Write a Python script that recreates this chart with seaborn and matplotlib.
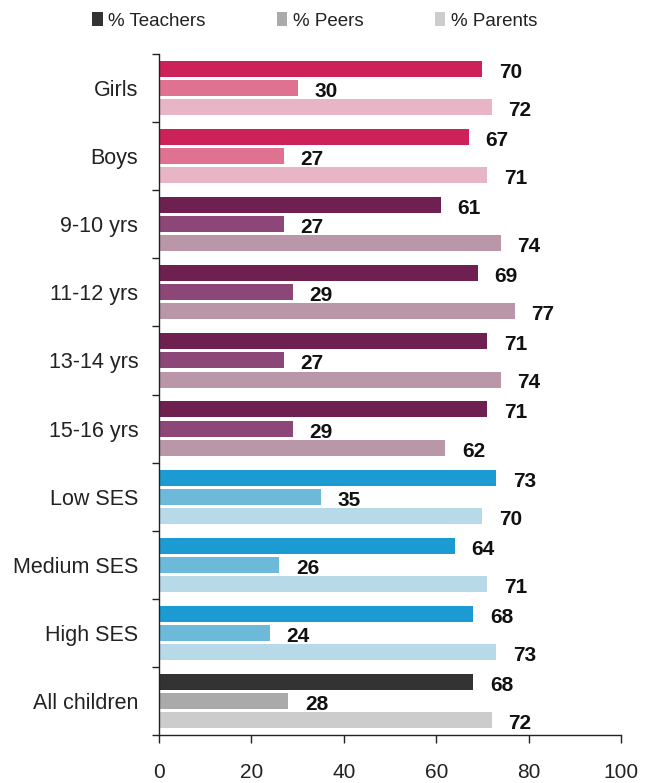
import matplotlib
matplotlib.use("Agg")
import matplotlib.pyplot as plt
from matplotlib.patches import Patch
from matplotlib.ticker import FixedLocator
import seaborn as sns
import pandas as pd

categories = ["Girls", "Boys", "9-10 yrs", "11-12 yrs", "13-14 yrs", "15-16 yrs",
              "Low SES", "Medium SES", "High SES", "All children"]
series = ["% Teachers", "% Peers", "% Parents"]
teachers = [70, 67, 61, 69, 71, 71, 73, 64, 68, 68]
peers = [30, 27, 27, 29, 27, 29, 35, 26, 24, 28]
parents = [72, 71, 74, 77, 74, 62, 70, 71, 73, 72]
x_ticks = [0, 20, 40, 60, 80, 100]

gender_cols = ["#cc2159", "#df7191", "#e8b5c7"]
age_cols = ["#6e2150", "#8c4677", "#b997a9"]
ses_cols = ["#1b9bd1", "#6cb9da", "#b8d9e8"]
all_cols = ["#333333", "#aaaaaa", "#cccccc"]
group_cols = [gender_cols] * 2 + [age_cols] * 4 + [ses_cols] * 3 + [all_cols]

rows = []
for s, vals in zip(series, [teachers, peers, parents]):
    for c, v in zip(categories, vals):
        rows.append({"category": c, "series": s, "value": v})
df = pd.DataFrame(rows)

sns.set_theme(style="white")
plt.rcParams["font.family"] = ["Liberation Sans", "DejaVu Sans"]

fig = plt.figure(figsize=(6.53, 7.83), dpi=100)
ax = fig.add_axes([159 / 653, 1 - 735 / 783, 462 / 653, 681 / 783])

sns.barplot(data=df, y="category", x="value", hue="series", order=categories,
            hue_order=series, orient="h", width=0.84, gap=0.16, ax=ax,
            legend=False, errorbar=None, saturation=1)

for hi, cont in enumerate(ax.containers):
    for ci, patch in enumerate(cont.patches):
        patch.set_facecolor(group_cols[ci][hi])
        patch.set_edgecolor("none")
    anns = ax.bar_label(cont, labels=[str(v) for v in [teachers, peers, parents][hi]],
                        padding=12, fontsize=15, fontweight="bold", color="#111111")
    for a in anns:
        a.xyann = (12, -2.5)

ax.set_xlim(0, 100)
ax.set_ylim(len(categories) - 0.5, -0.5)
ax.set_xticks(x_ticks)
ax.set_xticklabels([str(t) for t in x_ticks], fontsize=15, color="#222222")
ax.tick_params(axis="x", bottom=True, length=6, width=1, pad=14, color="#222222")
ax.tick_params(axis="y", left=False, labelsize=15.5, labelcolor="#222222", pad=9)
ax.yaxis.set_minor_locator(FixedLocator([i - 0.5 for i in range(len(categories) + 1)]))
ax.tick_params(axis="y", which="minor", left=True, length=5, width=1, color="#222222")
ax.set_xlabel("")
ax.set_ylabel("")
for side in ["top", "right"]:
    ax.spines[side].set_visible(False)
for side in ["left", "bottom"]:
    ax.spines[side].set_color("#222222")
    ax.spines[side].set_linewidth(1)

handles = [Patch(facecolor=c, edgecolor="none") for c in all_cols]
fig.legend(handles, series, loc="center", bbox_to_anchor=(0.482, 1 - 21 / 783),
           ncol=3, frameon=False, fontsize=13.5, handlelength=0.55, handleheight=0.7,
           handletextpad=0.3, columnspacing=3.8, labelcolor="#222222")

fig.savefig("out.png", dpi=100)
